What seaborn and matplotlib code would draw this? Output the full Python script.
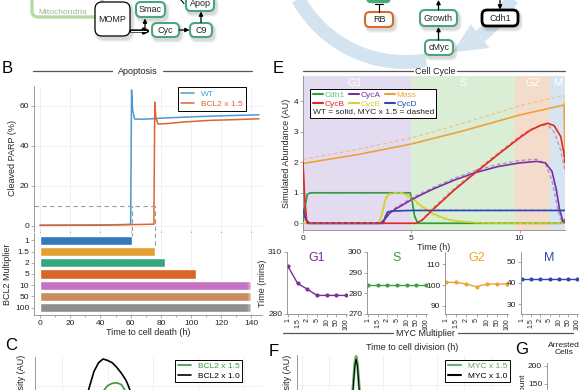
import numpy as np
import pandas as pd
import matplotlib
matplotlib.use("Agg")
import matplotlib.pyplot as plt
import seaborn as sns
from matplotlib.patches import FancyBboxPatch, Polygon
from matplotlib.lines import Line2D

sns.set_style("ticks")
plt.rcParams['font.family'] = ['Liberation Sans', 'DejaVu Sans']

# ---------------- data ----------------
# B: cleaved PARP (%) over time (h)
wt_time = [0, 40, 60.0, 60.6, 61.3, 62.6, 69, 85, 105, 125, 145]
wt_parp = [0.4, 0.5, 0.8, 68, 58, 53.5, 53.4, 54.1, 54.7, 55.2, 55.6]
bcl_time = [0, 40, 75.4, 76.0, 76.7, 78.2, 84, 95, 112, 130, 145]
bcl_parp = [0.3, 0.4, 0.9, 62, 54, 51, 51.2, 52.0, 52.8, 53.2, 53.6]
parp_threshold = 10

# B: time to cell death per BCL2 multiplier
bcl2_mult = ["1", "1.5", "2", "5", "10", "50", "100"]
death_time = [61, 76, 83, 103, 140, 140, 140]
bar_colors = ["#3479bd", "#e2a033", "#36a67c", "#da6526", "#c672c3", "#c98b5f", "#8e8e8e"]

# C: density of time to death
c_x = [0, 5, 8, 10, 12.2, 14, 16, 18, 20, 22, 24, 26, 28, 29, 31, 34, 38, 45, 60]
c_bcl10 = [0, 0.0, 0.1, 0.3, 0.61, 0.85, 1.0, 1.065, 1.04, 1.0, 0.92, 0.82, 0.7, 0.61, 0.4, 0.15, 0.03, 0, 0]
c_bcl15 = [0, 0, 0, 0.0, 0.02, 0.1, 0.3, 0.5, 0.6, 0.64, 0.65, 0.62, 0.5, 0.42, 0.26, 0.08, 0.01, 0, 0]

# E: cell cycle simulation
phase_names = ["G1", "S", "G2", "M"]
phase_start = [0, 5.0, 9.77, 11.43]
phase_end = [5.0, 9.77, 11.43, 12.1]
phase_colors = ["#e3dbef", "#d9eed5", "#f4dccc", "#d7e4f2"]

mass_t = [0, 2.5, 5, 7.5, 10, 12.06, 12.1]
mass_wt = [1.96, 2.25, 2.6, 3.05, 3.55, 3.88, 1.95]
mass_myc = [2.1, 2.42, 2.8, 3.3, 3.85, 4.2, 2.1]

cdh1_t = [0, 0.08, 0.2, 0.35, 4.95, 5.05, 5.15, 5.3, 11.9, 12.0, 12.1]
cdh1_wt = [0.0, 0.5, 0.95, 1.0, 1.0, 0.7, 0.25, 0.0, 0.0, 0.06, 0.12]
cdh1_myc = [0.0, 0.5, 0.95, 1.0, 1.0, 0.6, 0.2, 0.0, 0.0, 0.07, 0.13]

cyca_t = [0, 0.15, 0.3, 3.6, 3.8, 4.0, 4.3, 4.6, 5.0, 5.5, 6.0, 7.0, 8.0, 9.0, 10.0, 10.8, 11.2, 11.5, 11.7, 11.85, 12.0, 12.1]
cyca_wt = [0.45, 0.1, 0.0, 0.0, 0.15, 0.33, 0.48, 0.6, 0.77, 0.95, 1.12, 1.42, 1.67, 1.86, 1.98, 2.03, 1.98, 1.7, 1.1, 0.45, 0.08, 0.02]
cyca_myc = [0.45, 0.1, 0.0, 0.02, 0.2, 0.38, 0.52, 0.65, 0.82, 1.0, 1.17, 1.48, 1.74, 1.93, 2.06, 2.1, 1.95, 1.4, 0.7, 0.2, 0.03, 0.0]

cycb_t = [0, 0.08, 0.18, 5.2, 5.5, 6.0, 7.0, 8.0, 9.0, 10.0, 10.5, 11.0, 11.3, 11.6, 11.9, 12.05, 12.1]
cycb_wt = [2.0, 0.8, 0.0, 0.0, 0.1, 0.45, 1.1, 1.68, 2.25, 2.8, 3.05, 3.22, 3.28, 3.2, 2.85, 2.3, 2.0]
cycb_myc = [2.0, 0.8, 0.0, 0.0, 0.12, 0.5, 1.15, 1.73, 2.3, 2.85, 3.08, 3.22, 3.22, 3.0, 2.4, 1.9, 1.7]

cyce_t = [0, 3.5, 3.65, 3.8, 3.95, 4.2, 4.6, 5.0, 5.5, 6.0, 6.5, 7.0, 8.0, 9.0, 12.1]
cyce_wt = [0, 0, 0.3, 0.75, 0.95, 1.0, 1.0, 0.85, 0.55, 0.32, 0.17, 0.08, 0.02, 0.0, 0.0]
cyce_myc = [0, 0.02, 0.4, 0.85, 0.98, 1.0, 0.98, 0.78, 0.48, 0.27, 0.14, 0.06, 0.01, 0.0, 0.0]

cycd_t = [0, 0.15, 0.3, 3.7, 3.8, 3.9, 4.1, 5.0, 12.1]
cycd_wt = [0.45, 0.1, 0.0, 0.0, 0.2, 0.36, 0.4, 0.42, 0.42]
cycd_myc = [0.45, 0.1, 0.0, 0.02, 0.25, 0.38, 0.41, 0.43, 0.43]

species_colors = {"Cdh1": "#2f9a3f", "CycA": "#7a2fa0", "Mass": "#f0a23a",
                  "CycB": "#e0282a", "CycE": "#d6d02e", "CycD": "#2a48b6"}
legend_text_colors = {"Cdh1": "#5cc585", "CycA": "#7a2fa0", "Mass": "#f0a23a",
                      "CycB": "#e0282a", "CycE": "#d6d02e", "CycD": "#2a48b6"}

# E: phase duration (mins) per MYC multiplier
myc_mult = ["1", "1.5", "2", "5", "10", "50", "100"]
g1_time = [303, 294.8, 292, 289, 289, 289, 289]
s_time = [284, 284, 284, 284, 284, 284, 284]
g2_time = [101.3, 101.3, 100.5, 99.2, 100.5, 100.5, 100.5]
m_time = [41.9, 41.9, 41.9, 41.9, 41.9, 41.9, 41.9]

# F: density of time to cell division
f_x = [7, 8.6, 9.1, 9.45, 9.75, 10.0, 10.25, 10.55, 10.9, 11.4, 13]
f_myc15 = [0, 0.02, 0.25, 0.6, 0.92, 1.03, 0.92, 0.6, 0.25, 0.02, 0]
f_myc10 = [0, 0.01, 0.2, 0.55, 0.88, 0.99, 0.88, 0.55, 0.2, 0.01, 0]

# ---------------- figure ----------------
W, H = 585, 390
fig = plt.figure(figsize=(5.85, 3.9), dpi=100)


def rect(x0, y0, x1, y1):
    return [x0 / W, 1 - y1 / H, (x1 - x0) / W, (y1 - y0) / H]


def style(ax, grid=False, fs=6):
    for s in ["top", "right"]:
        ax.spines[s].set_visible(False)
    for s in ["left", "bottom"]:
        ax.spines[s].set_color("#8a8a8a")
        ax.spines[s].set_linewidth(0.6)
    ax.tick_params(labelsize=fs, length=2, width=0.5, color="#8a8a8a", pad=1.5, labelcolor="#222222")
    if grid:
        ax.grid(True, color="#ececec", lw=0.5)
        ax.set_axisbelow(True)


# overlay for diagrams, headers and panel letters
ov = fig.add_axes([0, 0, 1, 1])
ov.set_xlim(0, W)
ov.set_ylim(H, 0)
ov.axis("off")
ov.patch.set_alpha(0)


def node(x0, y0, x1, y1, label, edge, lw=1.5, rs=5):
    for k, a in [(3, 0.05), (2, 0.07), (1, 0.09)]:
        ov.add_patch(FancyBboxPatch((x0 + 2 - k, y0 + 3 - k), x1 - x0 + 2 * k, y1 - y0 + 2 * k,
                                    boxstyle=f"round,pad=0,rounding_size={rs + k}",
                                    fc="#444444", ec="none", alpha=a, zorder=2))
    ov.add_patch(FancyBboxPatch((x0, y0), x1 - x0, y1 - y0, boxstyle=f"round,pad=0,rounding_size={rs}",
                                fc="white", ec=edge, lw=lw, zorder=3))
    ov.text((x0 + x1) / 2, (y0 + y1) / 2 + 0.5, label, ha="center", va="center", fontsize=6.5,
            color="#222222", zorder=4)


def arrow(x1, y1, x2, y2, lw=0.9):
    ov.annotate("", xy=(x2, y2), xytext=(x1, y1), zorder=5,
                arrowprops=dict(arrowstyle="-|>", color="black", lw=lw, mutation_scale=6,
                                shrinkA=0, shrinkB=0))


# --- apoptosis diagram (top left)
ov.add_patch(FancyBboxPatch((32, -40), 70, 57, boxstyle="round,pad=0,rounding_size=6",
                            fc="white", ec="#b7dca2", lw=2.4, zorder=1))
ov.text(63, 12.5, "Mitochondria", ha="center", va="center", fontsize=6, color="#9db690", zorder=2)
node(95, 2, 130, 36, "MOMP", "black", lw=0.9, rs=7)
node(136, 2, 165, 17, "Smac", "#4aa57a")
node(152, 23, 179, 37, "Cyc", "#4aa57a")
node(190, 23, 212, 37, "C9", "#4aa57a")
node(186, -4, 214, 11, "Apop", "#4aa57a")
ov.annotate("", xy=(151, 31), xytext=(131, 31), zorder=5,
            arrowprops=dict(arrowstyle="-|>", color="black", lw=2.4, mutation_scale=7, shrinkA=0, shrinkB=0))
ov.plot([131, 146], [31, 31], color="white", lw=0.8, zorder=6)
arrow(145, 29.5, 145, 18.5)
arrow(179.5, 30, 189.5, 30)
arrow(201, 22.5, 201, 11.5)
ov.plot([181, 184], [0, 3.5], color="black", lw=0.8, zorder=5)

# --- cell cycle diagram (top right)
cx, cy, r = 405, -60, 122
th = np.radians(np.linspace(25, 52, 30))
ov.plot(cx + r * np.cos(th), cy + r * np.sin(th), color="#d3e3ef", lw=10, solid_capstyle="butt", zorder=0)
th = np.radians(np.linspace(80, 155, 60))
ov.plot(cx + r * np.cos(th), cy + r * np.sin(th), color="#d3e3ef", lw=10, solid_capstyle="butt", zorder=0)
b, t = np.radians(52), np.radians(67)
head = [(cx + (r - 15) * np.cos(b), cy + (r - 15) * np.sin(b)),
        (cx + (r + 15) * np.cos(b), cy + (r + 15) * np.sin(b)),
        (cx + r * np.cos(t), cy + r * np.sin(t))]
ov.add_patch(Polygon(head, closed=True, fc="#d3e3ef", ec="none", zorder=0))

ov.add_patch(FancyBboxPatch((367, -10), 23, 12.5, boxstyle="round,pad=0,rounding_size=4",
                            fc="#47a878", ec="#47a878", lw=1, zorder=3))
ov.plot([379, 379], [3.5, 12], color="black", lw=0.8, zorder=5)
ov.plot([375, 383], [4, 4], color="black", lw=0.8, zorder=5)
node(365, 12, 393, 27, "RB", "#d8692f")
node(420, 10, 457, 26, "Growth", "#4aa57a")
node(425, 40, 453, 55, "cMyc", "#4aa57a")
node(482, 10, 518, 26, "Cdh1", "black", lw=2.0)
arrow(438.5, 40, 438.5, 27)
arrow(438.5, 10, 438.5, 0)
arrow(500, -5, 500, 9.5)

# --- headers and panel letters
for (xa, xb, xc, xd, yy, label, xl) in [(33, 112, 163, 252, 71, "Apoptosis", 138),
                                       (303, 413, 457, 565, 71, "Cell Cycle", 435),
                                       (283, 393, 458, 573, 333, "MYC Multiplier", 425)]:
    ov.plot([xa, xb], [yy, yy], color="#555555", lw=0.9)
    ov.plot([xc, xd], [yy, yy], color="#555555", lw=0.9)
    ov.text(xl, yy, label, ha="center", va="center", fontsize=6.5, color="#222222")

for (x, y, s) in [(7, 68.5, "B"), (278, 68.5, "E"), (11, 345, "C"), (273.5, 351, "F"), (522, 350, "G")]:
    ov.text(x, y, s, ha="center", va="center", fontsize=12, color="black")

# ---------------- B: PARP time course ----------------
ax_b = fig.add_axes(rect(34, 86, 262, 231))
style(ax_b, grid=True)
sns.lineplot(x=wt_time, y=wt_parp, ax=ax_b, color="#4d9ad0", lw=1.1, label="WT", estimator=None)
sns.lineplot(x=bcl_time, y=bcl_parp, ax=ax_b, color="#e3622f", lw=1.1, label="BCL2 x 1.5", estimator=None)
ax_b.plot([-4, death_time[1]], [parp_threshold, parp_threshold], color="#9a9a9a", lw=0.8, ls=(0, (4, 3)))
for dt in death_time[:2]:
    ax_b.plot([dt, dt], [-2.5, parp_threshold], color="#9a9a9a", lw=0.8, ls=(0, (4, 3)))
ax_b.set_xlim(-4, 147)
ax_b.set_ylim(-2.5, 70)
ax_b.set_yticks([0, 20, 40, 60])
ax_b.set_xticks(range(0, 141, 20))
ax_b.tick_params(axis="x", labelbottom=False, length=2)
ax_b.spines["bottom"].set_visible(False)
ax_b.set_ylabel("Cleaved PARP (%)", fontsize=6.5, labelpad=2)
leg = ax_b.legend(loc="upper left", bbox_to_anchor=(0.632, 0.99), fontsize=6, frameon=True,
                  fancybox=False, edgecolor="black", framealpha=1, handlelength=1.6,
                  borderpad=0.35, labelspacing=0.25, borderaxespad=0, labelcolor="linecolor")
leg.get_frame().set_linewidth(0.7)

# ---------------- B: bars ----------------
ax_bar = fig.add_axes(rect(34, 233, 262, 315))
style(ax_bar, grid=True)
ax_bar.grid(False, axis="y")
bars = pd.DataFrame({"mult": bcl2_mult, "time": death_time})
sns.barplot(data=bars, x="time", y="mult", hue="mult", palette=bar_colors, legend=False,
            orient="h", width=0.82, saturation=1, ax=ax_bar)
grad = np.ones((1, 60, 4))
grad[..., 3] = np.linspace(0, 1, 60)
ax_bar.imshow(grad, extent=[137, 142, 6.5, 3.55], aspect="auto", zorder=4)
for i, dt in enumerate(death_time[:2]):
    ax_bar.plot([dt, dt], [-0.65, i - 0.41], color="#9a9a9a", lw=0.8, ls=(0, (4, 3)), zorder=5)
ax_bar.set_xlim(-4, 147)
ax_bar.set_ylim(6.65, -0.65)
ax_bar.set_xticks(range(0, 141, 20))
ax_bar.set_xticks(range(10, 141, 20), minor=True)
ax_bar.tick_params(axis="x", which="minor", length=1.5, width=0.5, color="#8a8a8a")
ax_bar.set_xlabel("Time to cell death (h)", fontsize=6.5, labelpad=1)
ax_bar.set_ylabel("BCL2 Multiplier", fontsize=6.5, labelpad=2)

# ---------------- C: density ----------------
ax_c = fig.add_axes(rect(35, 357, 262, 420))
style(ax_c, grid=True)
sns.lineplot(x=c_x, y=c_bcl15, ax=ax_c, color="#3a9a3f", lw=1.2, label="BCL2 x 1.5", estimator=None)
sns.lineplot(x=c_x, y=c_bcl10, ax=ax_c, color="black", lw=1.2, label="BCL2 x 1.0", estimator=None)
ax_c.set_xlim(-12, 88)
ax_c.set_ylim(0, 1.1)
ax_c.set_xticks(range(0, 81, 20))
ax_c.set_yticks([0.6])
ax_c.tick_params(labelleft=False, labelbottom=False, length=0)
leg = ax_c.legend(loc="upper left", bbox_to_anchor=(0.617, 0.955), fontsize=6, fancybox=False,
                  edgecolor="black", framealpha=1, handlelength=1.6, borderpad=0.3,
                  labelspacing=0.2, borderaxespad=0, labelcolor="linecolor")
leg.get_frame().set_linewidth(0.7)
ov.text(22, 380, "Density (AU)", rotation=90, ha="center", va="center", fontsize=6.5, color="#222222")

# ---------------- E: cell cycle simulation ----------------
ax_e = fig.add_axes(rect(303, 76, 565, 230))
style(ax_e)
for name, x0, x1, col in zip(phase_names, phase_start, phase_end, phase_colors):
    ax_e.axvspan(x0, x1, color=col, lw=0, zorder=0)
    ax_e.text((x0 + x1) / 2 if name != "G1" else 2.4, 4.6, name, color="white", fontsize=8,
              ha="center", va="center", zorder=1)

rows = []
for name, tt, wt, myc in [("Mass", mass_t, mass_wt, mass_myc), ("Cdh1", cdh1_t, cdh1_wt, cdh1_myc),
                          ("CycE", cyce_t, cyce_wt, cyce_myc), ("CycD", cycd_t, cycd_wt, cycd_myc),
                          ("CycA", cyca_t, cyca_wt, cyca_myc), ("CycB", cycb_t, cycb_wt, cycb_myc)]:
    for a, v1, v2 in zip(tt, wt, myc):
        rows.append((name, a, v1, v2))
sim = pd.DataFrame(rows, columns=["species", "time", "wt", "myc"])
sns.lineplot(data=sim, x="time", y="wt", hue="species", palette=species_colors, lw=1.2,
             estimator=None, legend=False, ax=ax_e, zorder=3)
sns.lineplot(data=sim, x="time", y="myc", hue="species", palette=species_colors, lw=0.9,
             estimator=None, legend=False, ax=ax_e, zorder=4, alpha=0.5)
for ln in ax_e.get_lines()[-6:]:
    ln.set_linestyle((0, (3, 2)))
ax_e.set_xlim(0, 12.1)
ax_e.set_ylim(-0.22, 4.83)
ax_e.set_xticks([0, 5, 10])
ax_e.set_yticks([0, 1, 2, 3, 4])
ax_e.set_xlabel("Time (h)", fontsize=6.5, labelpad=1)
ax_e.set_ylabel("Simulated Abundance (AU)", fontsize=6.5, labelpad=2)

order = ["Cdh1", "CycB", "CycA", "CycE", "Mass", "CycD"]
handles = [Line2D([], [], color=species_colors[s], lw=1.5) for s in order]
leg = ax_e.legend(handles, order, ncol=3, loc="upper left", bbox_to_anchor=(0.027, 0.918),
                  title="WT = solid, MYC x 1.5 = dashed", title_fontsize=6, fontsize=6,
                  fancybox=False, edgecolor="black", framealpha=1, handlelength=1.2,
                  handletextpad=0.2, columnspacing=0.5, borderpad=0.3, labelspacing=0.1,
                  borderaxespad=0, alignment="left",
                  labelcolor=[legend_text_colors[s] for s in order])
leg.get_frame().set_linewidth(0.7)
leg._legend_box._children = leg._legend_box._children[::-1]

# ---------------- E: phase durations ----------------
small = [("G1", g1_time, "#7a2e98", (287, 347), (280, 310), [280, 310]),
         ("S", s_time, "#3d9a45", (367, 427), (270, 300), [270, 280, 290, 300]),
         ("G2", g2_time, "#e8a52c", (445, 508), (86, 116), [90, 100, 110]),
         ("M", m_time, "#2c47ad", (521, 578), (25.3, 54.5), [30, 40, 50])]
for name, vals, col, (xa, xb), lim, ticks in small:
    ax = fig.add_axes(rect(xa, 252, xb, 314))
    style(ax, fs=6)
    sns.pointplot(x=myc_mult, y=vals, color=col, markersize=2.2, linewidth=1.0, ax=ax)
    ax.set_xlim(-0.1, 6.1)
    ax.set_ylim(*lim)
    ax.set_yticks(ticks)
    ax.tick_params(axis="x", labelrotation=90, labelsize=5, pad=1)
    ax.text(0.5, 1.0, name, transform=ax.transAxes, ha="center", va="top", color=col, fontsize=9)
    if name == "G1":
        ax.set_ylabel("Time (mins)", fontsize=6.5, labelpad=1)

# ---------------- F: division time density ----------------
ax_f = fig.add_axes(rect(297, 355, 512, 425))
style(ax_f, grid=True)
sns.lineplot(x=f_x, y=f_myc15, ax=ax_f, color="#5aa85a", lw=2.0, label="MYC x 1.5", estimator=None, alpha=0.9)
sns.lineplot(x=f_x, y=f_myc10, ax=ax_f, color="black", lw=0.8, label="MYC x 1.0", estimator=None)
ax_f.set_xlim(-1, 39)
ax_f.set_ylim(0, 1.05)
ax_f.set_xticks(range(0, 40, 5))
ax_f.set_yticks([0.6])
ax_f.tick_params(labelleft=False, labelbottom=False, length=0)
leg = ax_f.legend(loc="upper left", bbox_to_anchor=(0.69, 0.93), fontsize=6, fancybox=False,
                  edgecolor="black", framealpha=1, handlelength=1.6, borderpad=0.3,
                  labelspacing=0.2, borderaxespad=0, labelcolor=["#5aa85a", "black"])
leg.get_frame().set_linewidth(0.7)
for h in leg.legend_handles:
    h.set_linewidth(1.5)
ov.text(412, 347, "Time to cell division (h)", ha="center", va="center", fontsize=6.5, color="#222222")
ov.text(288, 380, "Density (AU)", rotation=90, ha="center", va="center", fontsize=6.5, color="#222222")

# ---------------- G: arrested cells ----------------
ax_g = fig.add_axes(rect(547, 363, 600, 430))
style(ax_g)
ax_g.spines["bottom"].set_visible(False)
ax_g.set_ylim(22, 208)
ax_g.set_yticks([150, 200])
ax_g.set_xticks([])
ov.text(564, 349, "Arrested\nCells", ha="center", va="center", fontsize=6, color="#222222", linespacing=1.1)
ov.text(523, 385, "Count", rotation=90, ha="center", va="center", fontsize=6, color="#222222")

fig.savefig("out.png", dpi=100)
